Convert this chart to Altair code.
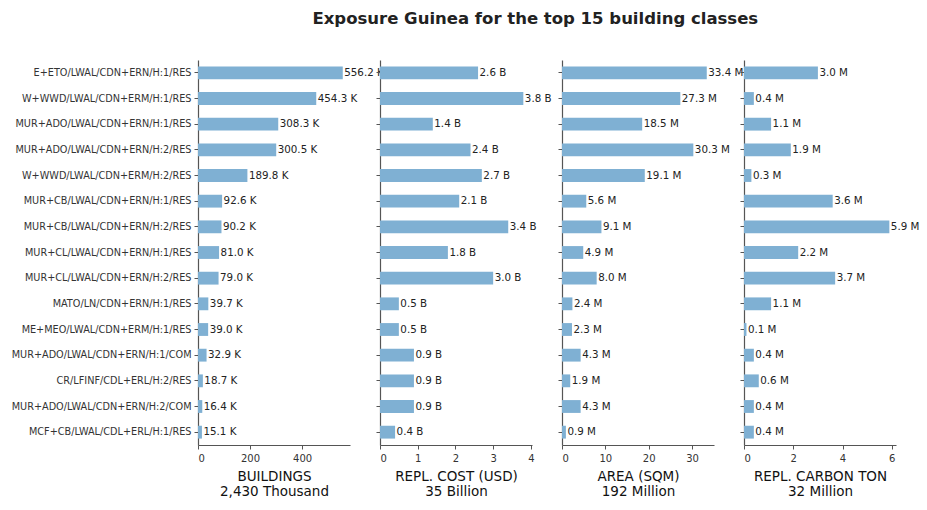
import altair as alt
import pandas as pd

classes = [
    "E+ETO/LWAL/CDN+ERN/H:1/RES",
    "W+WWD/LWAL/CDN+ERM/H:1/RES",
    "MUR+ADO/LWAL/CDN+ERN/H:1/RES",
    "MUR+ADO/LWAL/CDN+ERN/H:2/RES",
    "W+WWD/LWAL/CDN+ERM/H:2/RES",
    "MUR+CB/LWAL/CDN+ERN/H:1/RES",
    "MUR+CB/LWAL/CDN+ERN/H:2/RES",
    "MUR+CL/LWAL/CDN+ERN/H:1/RES",
    "MUR+CL/LWAL/CDN+ERN/H:2/RES",
    "MATO/LN/CDN+ERN/H:1/RES",
    "ME+MEO/LWAL/CDN+ERM/H:1/RES",
    "MUR+ADO/LWAL/CDN+ERN/H:1/COM",
    "CR/LFINF/CDL+ERL/H:2/RES",
    "MUR+ADO/LWAL/CDN+ERN/H:2/COM",
    "MCF+CB/LWAL/CDL+ERL/H:1/RES",
]

buildings_k = [556.2, 454.3, 308.3, 300.5, 189.8, 92.6, 90.2, 81.0, 79.0, 39.7, 39.0, 32.9, 18.7, 16.4, 15.1]
cost_b = [2.6, 3.8, 1.4, 2.4, 2.7, 2.1, 3.4, 1.8, 3.0, 0.5, 0.5, 0.9, 0.9, 0.9, 0.4]
area_m = [33.4, 27.3, 18.5, 30.3, 19.1, 5.6, 9.1, 4.9, 8.0, 2.4, 2.3, 4.3, 1.9, 4.3, 0.9]
carbon_m = [3.0, 0.4, 1.1, 1.9, 0.3, 3.6, 5.9, 2.2, 3.7, 1.1, 0.1, 0.4, 0.6, 0.4, 0.4]

panel_titles = [
    ["BUILDINGS", "2,430 Thousand"],
    ["REPL. COST (USD)", "35 Billion"],
    ["AREA (SQM)", "192 Million"],
    ["REPL. CARBON TON", "32 Million"],
]
units = ["K", "B", "M", "M"]
x_max = [584, 4.03, 35.07, 6.17]
x_ticks = [[0, 200, 400], [0, 1, 2, 3, 4], [0, 10, 20, 30], [0, 2, 4, 6]]

BAR = "#7fb0d3"
FONT = "DejaVu Sans"


def panel(values, title, unit, xmax, ticks, show_labels):
    df = pd.DataFrame({"cls": classes, "v": values})
    base = alt.Chart(df).encode(
        y=alt.Y(
            "cls:N",
            sort=classes,
            title=None,
            scale=alt.Scale(paddingInner=0.5, paddingOuter=0.25),
            axis=alt.Axis(labels=show_labels, ticks=True, tickSize=4,
                          labelPadding=3, labelFontSize=9.7, labelLimit=300),
        ),
        x=alt.X(
            "v:Q",
            title=title,
            scale=alt.Scale(domain=[0, xmax], nice=False, zero=True),
            axis=alt.Axis(values=ticks, format="d", tickSize=4, labelFontSize=10,
                          titleFontSize=13.5, titleFontWeight="normal",
                          titleColor="#111", titlePadding=6, labelPadding=4),
        ),
    )
    bars = base.mark_bar(color=BAR, opacity=1)
    text = base.mark_text(align="left", baseline="middle", dx=1.5, fontSize=10.3,
                          font=FONT, color="#222").transform_calculate(
        lab="format(datum.v, '.1f') + ' " + unit + "'"
    ).encode(text="lab:N")
    return (bars + text).properties(width=152, height=385)


panels = [
    panel(v, t, u, m, tk, i == 0)
    for i, (v, t, u, m, tk) in enumerate(
        zip([buildings_k, cost_b, area_m, carbon_m], panel_titles, units, x_max, x_ticks)
    )
]

chart = alt.hconcat(*panels, spacing=30, bounds="flush").properties(
    title=alt.TitleParams(
        "Exposure Guinea for the top 15 building classes",
        fontSize=16.5, font=FONT, fontWeight="bold", color="#222",
        anchor="middle", offset=33, dx=70,
    ),
    padding={"left": 11, "top": 10, "right": 5, "bottom": 5},
).configure_view(stroke=None).configure_axis(
    grid=False, domainColor="#555", tickColor="#555", labelColor="#333",
    labelFont=FONT, titleFont=FONT, domainWidth=1,
).configure_axisY(domainWidth=1.2).configure_axisX(domainWidth=1.2)

chart.save("out.html", embed_options={"renderer": "svg", "actions": False})
